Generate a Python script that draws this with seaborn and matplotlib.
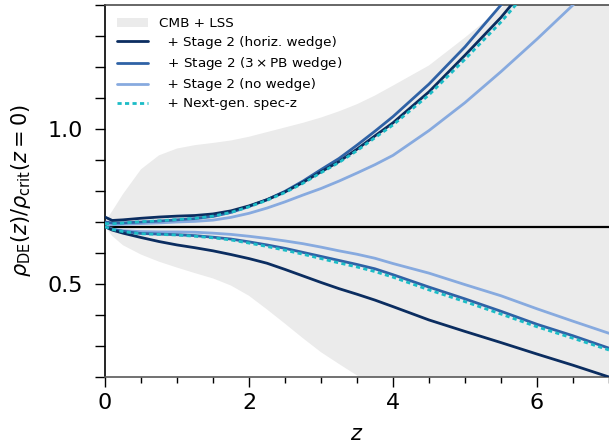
import numpy as np
import pandas as pd
import matplotlib
matplotlib.use("Agg")
import matplotlib.pyplot as plt
from matplotlib.ticker import MultipleLocator
from matplotlib.patches import Patch
from matplotlib.lines import Line2D
import seaborn as sns

# ---- data ----
z = [0.0, 0.1, 0.25, 0.5, 0.75, 1.0, 1.25, 1.5, 1.75, 2.0, 2.25, 2.5, 2.75,
     3.0, 3.25, 3.5, 3.75, 4.0, 4.5, 5.0, 5.5, 6.0, 6.5, 7.0]

band_upper = [0.70, 0.735, 0.79, 0.87, 0.915, 0.937, 0.948, 0.955, 0.963, 0.975, 0.99, 1.005, 1.02,
              1.037, 1.057, 1.08, 1.108, 1.14, 1.205, 1.295, 1.39, 1.49, 1.60, 1.72]
band_lower = [0.685, 0.655, 0.625, 0.595, 0.572, 0.553, 0.535, 0.518, 0.495, 0.462, 0.418, 0.372, 0.325,
              0.28, 0.242, 0.205, 0.17, 0.14, 0.09, 0.05, 0.03, 0.02, 0.01, 0.0]

horiz_upper = [0.716, 0.705, 0.707, 0.712, 0.716, 0.719, 0.721, 0.726, 0.736, 0.752, 0.772, 0.797, 0.828,
               0.862, 0.895, 0.935, 0.978, 1.02, 1.12, 1.238, 1.36, 1.50, 1.65, 1.80]
horiz_lower = [0.685, 0.674, 0.664, 0.65, 0.637, 0.626, 0.617, 0.607, 0.595, 0.582, 0.567, 0.547, 0.526,
               0.505, 0.485, 0.467, 0.448, 0.427, 0.384, 0.347, 0.311, 0.274, 0.238, 0.20]

pb_upper = [0.70, 0.697, 0.697, 0.70, 0.703, 0.707, 0.711, 0.718, 0.731, 0.75, 0.772, 0.799, 0.832,
            0.869, 0.905, 0.948, 0.993, 1.04, 1.145, 1.265, 1.40, 1.55, 1.70, 1.85]
pb_lower = [0.685, 0.676, 0.67, 0.663, 0.661, 0.659, 0.656, 0.651, 0.645, 0.636, 0.626, 0.615, 0.602,
            0.589, 0.576, 0.563, 0.549, 0.530, 0.49, 0.452, 0.412, 0.37, 0.333, 0.293]

nowedge_upper = [0.69, 0.691, 0.693, 0.695, 0.697, 0.70, 0.702, 0.706, 0.715, 0.728, 0.745, 0.765, 0.787,
                 0.808, 0.832, 0.858, 0.885, 0.915, 0.995, 1.085, 1.185, 1.29, 1.40, 1.52]
nowedge_lower = [0.685, 0.677, 0.672, 0.669, 0.668, 0.668, 0.667, 0.664, 0.66, 0.654, 0.647, 0.639, 0.63,
                 0.619, 0.607, 0.596, 0.583, 0.566, 0.535, 0.498, 0.462, 0.42, 0.38, 0.341]

specz_upper = [0.695, 0.694, 0.697, 0.701, 0.704, 0.708, 0.712, 0.719, 0.731, 0.749, 0.77, 0.795, 0.825,
               0.859, 0.892, 0.93, 0.972, 1.013, 1.11, 1.225, 1.345, 1.48, 1.63, 1.78]
specz_lower = [0.685, 0.676, 0.669, 0.662, 0.66, 0.658, 0.654, 0.649, 0.642, 0.632, 0.621, 0.609, 0.596,
               0.582, 0.568, 0.555, 0.54, 0.522, 0.481, 0.443, 0.403, 0.362, 0.325, 0.287]

fiducial = 0.685

labels = ["CMB + LSS",
          "  + Stage 2 (horiz. wedge)",
          "  + Stage 2 ($3\\times\\mathrm{PB}$ wedge)",
          "  + Stage 2 (no wedge)",
          "  + Next-gen. spec-z"]

# ---- styling ----
sns.set_theme(style="ticks")
plt.rcParams["font.family"] = ["DejaVu Sans"]
plt.rcParams["mathtext.fontset"] = "dejavusans"
plt.rcParams["text.color"] = "black"
plt.rcParams["axes.labelcolor"] = "black"
plt.rcParams["xtick.color"] = "black"
plt.rcParams["ytick.color"] = "black"

c_band = "#ebebeb"
c_horiz = "#0b2d60"
c_pb = "#2f62a6"
c_now = "#87aadf"
c_specz = "#1cbcc6"
lw = 2.0
dots = (0, (1.5, 1.2))

fig = plt.figure(figsize=(6.09, 4.45), dpi=100)
ax = fig.add_axes([105 / 609, 68 / 445, 504 / 609, 372 / 445])

ax.fill_between(z, band_lower, band_upper, color=c_band, lw=0, zorder=1)
ax.axhline(fiducial, color="black", lw=1.6, zorder=2)

series = [
    (nowedge_upper, nowedge_lower, c_now, "-"),
    (pb_upper, pb_lower, c_pb, "-"),
    (horiz_upper, horiz_lower, c_horiz, "-"),
    (specz_upper, specz_lower, c_specz, dots),
]
for up, lo, col, ls in series:
    for yy in (up, lo):
        sns.lineplot(x=z, y=yy, color=col, lw=lw, linestyle=ls, ax=ax,
                     zorder=3, sort=False, estimator=None)

ax.set_xlim(0, 7)
ax.set_ylim(0.2, 1.4)
ax.xaxis.set_major_locator(MultipleLocator(2))
ax.xaxis.set_minor_locator(MultipleLocator(0.5))
ax.yaxis.set_major_locator(MultipleLocator(0.5))
ax.yaxis.set_minor_locator(MultipleLocator(0.1))
ax.tick_params(axis="x", which="major", direction="out", length=7, width=1,
               labelsize=16, pad=4.5)
ax.tick_params(axis="y", which="major", direction="out", length=7, width=1,
               labelsize=16, pad=9)
ax.tick_params(axis="x", which="minor", direction="out", length=4.5, width=1)
ax.tick_params(axis="y", which="minor", direction="out", length=7, width=1)

ax.set_xlabel("$z$", fontsize=15, labelpad=8)
ax.set_ylabel(r"$\rho_{\rm DE}(z)/\rho_{\rm crit}(z=0)$", fontsize=15, labelpad=10)

ax.spines["right"].set_visible(False)
ax.spines["left"].set_color("black")
ax.spines["top"].set_color("0.3")
ax.spines["bottom"].set_color("0.35")
for s in ax.spines.values():
    s.set_linewidth(1.2)

handles = [
    Patch(facecolor=c_band, edgecolor="none"),
    Line2D([], [], color=c_horiz, lw=lw),
    Line2D([], [], color=c_pb, lw=lw),
    Line2D([], [], color=c_now, lw=lw),
    Line2D([], [], color=c_specz, lw=lw, linestyle=dots),
]
leg = ax.legend(handles, labels, loc="upper left", frameon=False, fontsize=9.7,
                handlelength=2.3, labelspacing=0.45, borderaxespad=0.5)

fig.savefig("out.png", dpi=100)
